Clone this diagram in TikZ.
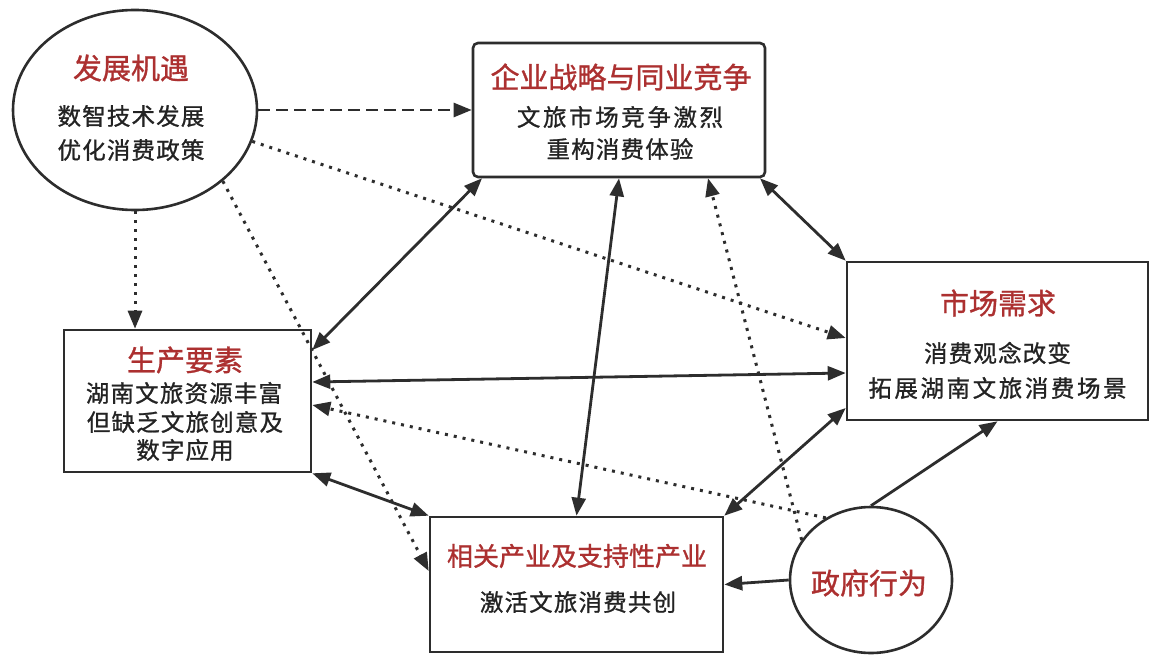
\documentclass[tikz,border=0pt]{standalone}
\usepackage{fontspec}
\newfontfamily\cjk[FakeBold=1]{Noto Sans CJK SC}
\newfontfamily\cjkbody[LetterSpace=5,FakeBold=1]{Noto Sans CJK SC}
\newfontfamily\cjkwide[LetterSpace=11,FakeBold=1]{Noto Sans CJK SC}
\usetikzlibrary{shapes.geometric,arrows.meta}
\definecolor{linegray}{RGB}{45,45,45}
\definecolor{titlered}{RGB}{172,48,48}
\definecolor{textgray}{RGB}{35,35,35}

\begin{document}
\begin{tikzpicture}[x=1pt,y=-1pt,
    >={Triangle[length=18pt,width=14pt]},
    box/.style={draw=linegray,line width=2.6pt,fill=white,inner sep=0pt},
    oval/.style={ellipse,draw=linegray,line width=2.6pt,fill=white,inner sep=0pt},
    title/.style={text=titlered,font=\cjk\fontsize{29}{33}\selectfont,inner sep=0pt},
    body/.style={text=textgray,font=\cjkbody\fontsize{23.5}{28}\selectfont,inner sep=0pt},
    wide/.style={font=\cjkwide\fontsize{23.5}{28}\selectfont},
    link/.style={draw=linegray,line width=2.8pt},
    dotlink/.style={draw=linegray,line width=3pt,dash pattern=on 3pt off 6pt,->},
    dashlink/.style={draw=linegray,line width=2.6pt,dash pattern=on 12pt off 6pt,->}]
    \useasboundingbox (0,0) rectangle (1155,660);

    % the six factors
    \node[oval,minimum width=244pt,minimum height=200pt] (jiyu) at (135,110) {};
    \node[box,rounded corners=5pt,minimum width=292pt,minimum height=134pt] (zhanlue) at (619,110) {};
    \node[box,minimum width=301pt,minimum height=158pt] (shichang) at (997.5,341) {};
    \node[box,minimum width=247pt,minimum height=142pt] (shengchan) at (187.5,401) {};
    \node[box,minimum width=293pt,minimum height=135pt] (xiangguan) at (576.5,584.5) {};
    \node[oval,minimum width=162pt,minimum height=146pt] (zhengfu) at (871,580) {};

    % texts
    \node[title] (jiyu-t) at (131,68) {发展机遇};
    \node[body] (jiyu-b1) at (131,116) {数智技术发展};
    \node[body] (jiyu-b2) at (131,150) {优化消费政策};

    \node[title] (zhanlue-t) at (621,77) {企业战略与同业竞争};
    \node[body,wide] (zhanlue-b1) at (620,117) {文旅市场竞争激烈};
    \node[body] (zhanlue-b2) at (620,149) {重构消费体验};

    \node[title] (shichang-t) at (998,303) {市场需求};
    \node[body] (shichang-b1) at (997.5,353) {消费观念改变};
    \node[body,wide] (shichang-b2) at (997.5,388) {拓展湖南文旅消费场景};

    \node[title] (shengchan-t) at (185,360) {生产要素};
    \node[body] (shengchan-b1) at (184,393) {湖南文旅资源丰富};
    \node[body] (shengchan-b2) at (185,422) {但缺乏文旅创意及};
    \node[body] (shengchan-b3) at (185,450) {数字应用};

    \node[title,font=\cjk\fontsize{26}{30}\selectfont] (xiangguan-t) at (577,556) {相关产业及支持性产业};
    \node[body] (xiangguan-b) at (578,602) {激活文旅消费共创};

    \node[title] (zhengfu-t) at (869,583) {政府行为};

    % links
    \draw[dashlink] (jiyu.east) -- (zhanlue.west);
    \draw[dotlink] (jiyu.south) -- (jiyu.south |- shengchan.north);
    \draw[dotlink] (jiyu.-15) -- (shichang.west |- 0,338);
    \draw[dotlink] (jiyu.-39) -- (xiangguan.west |- 0,571);

    \draw[link,<->] (shengchan.east |- 0,350) -- (482,0 |- zhanlue.south);
    \draw[link,<->] (zhanlue.south) -- (xiangguan.north);
    \draw[link,<->] (760,0 |- zhanlue.south) -- (shichang.north west);
    \draw[link,<->] (shengchan.east |- 0,382) -- (shichang.west |- 0,373);
    \draw[link,<->] (shengchan.south east) -- (xiangguan.north west);
    \draw[link,<->] (xiangguan.north east) -- (shichang.west |- 0,408);

    \draw[dotlink] (zhengfu.150) -- (708,0 |- zhanlue.south);
    \draw[dotlink] (zhengfu.126) -- (shengchan.east |- 0,405);
    \draw[link,->] (zhengfu.north) -- (shichang.south);
    \draw[link,->] (zhengfu.west) -- (xiangguan.east);
\end{tikzpicture}
\end{document}
